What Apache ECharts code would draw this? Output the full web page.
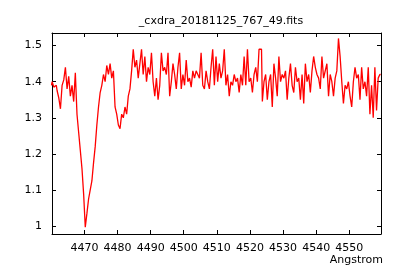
<!DOCTYPE html>
<html>
<head>
<meta charset="utf-8">
<script src="https://cdn.jsdelivr.net/npm/echarts@6/dist/echarts.min.js"></script>
<style>html,body{margin:0;padding:0;background:#fff}#c{width:400px;height:280px}</style>
</head>
<body>
<div id="c"></div>
<script>
const titleText = "_cxdra_20181125_767_49.fits";
const xLabel = "Angstrom";
const xTicks = [4470, 4480, 4490, 4500, 4510, 4520, 4530, 4540, 4550];
const yTicks = [1, 1.1, 1.2, 1.3, 1.4, 1.5];

const wavelength = [
4460,4460.5,4461,4461.5,4462,4462.5,4463,4463.5,4464,4464.5,
4465,4465.5,4466,4466.5,4467,4467.5,4468,4468.5,4469,4469.5,
4470,4470.5,4471,4471.5,4472,4472.5,4473,4473.5,4474,4474.5,
4475,4475.5,4476,4476.5,4477,4477.5,4478,4478.5,4479,4479.5,
4480,4480.5,4481,4481.5,4482,4482.5,4483,4483.5,4484,4484.5,
4485,4485.5,4486,4486.5,4487,4487.5,4488,4488.5,4489,4489.5,
4490,4490.5,4491,4491.5,4492,4492.5,4493,4493.5,4494,4494.5,
4495,4495.5,4496,4496.5,4497,4497.5,4498,4498.5,4499,4499.5,
4500,4500.5,4501,4501.5,4502,4502.5,4503,4503.5,4504,4504.5,
4505,4505.5,4506,4506.5,4507,4507.5,4508,4508.5,4509,4509.5,
4510,4510.5,4511,4511.5,4512,4512.5,4513,4513.5,4514,4514.5,
4515,4515.5,4516,4516.5,4517,4517.5,4518,4518.5,4519,4519.5,
4520,4520.5,4521,4521.5,4522,4522.5,4523,4523.5,4524,4524.5,
4525,4525.5,4526,4526.5,4527,4527.5,4528,4528.5,4529,4529.5,
4530,4530.5,4531,4531.5,4532,4532.5,4533,4533.5,4534,4534.5,
4535,4535.5,4536,4536.5,4537,4537.5,4538,4538.5,4539,4539.5,
4540,4540.5,4541,4541.5,4542,4542.5,4543,4543.5,4544,4544.5,
4545,4545.5,4546,4546.5,4547,4547.5,4548,4548.5,4549,4549.5,
4550,4550.5,4551,4551.5,4552,4552.5,4553,4553.5,4554,4554.5,
4555,4555.5,4556,4556.5,4557,4557.5,4558,4558.5,4559,4559.5
];

const flux = [
1.39,1.40,1.385,1.39,1.375,1.355,1.325,1.39,1.405,1.44,
1.38,1.415,1.36,1.39,1.345,1.425,1.31,1.26,1.21,1.16,
1.09,0.997,1.035,1.075,1.10,1.125,1.175,1.22,1.28,1.33,
1.37,1.39,1.42,1.40,1.445,1.42,1.45,1.41,1.43,1.33,
1.31,1.28,1.27,1.31,1.30,1.33,1.31,1.36,1.38,1.43,
1.49,1.44,1.46,1.41,1.45,1.49,1.42,1.47,1.40,1.44,
1.42,1.48,1.40,1.36,1.41,1.35,1.39,1.48,1.43,1.44,
1.42,1.48,1.36,1.40,1.45,1.42,1.38,1.44,1.48,1.38,
1.42,1.39,1.46,1.40,1.41,1.385,1.43,1.41,1.43,1.42,
1.41,1.48,1.39,1.38,1.43,1.40,1.38,1.44,1.49,1.39,
1.47,1.40,1.45,1.41,1.43,1.49,1.39,1.42,1.36,1.40,
1.39,1.42,1.40,1.41,1.37,1.42,1.39,1.47,1.39,1.49,
1.40,1.41,1.37,1.42,1.44,1.40,1.49,1.49,1.345,1.40,
1.42,1.35,1.40,1.42,1.33,1.45,1.41,1.36,1.47,1.40,
1.42,1.41,1.43,1.35,1.41,1.45,1.39,1.37,1.44,1.40,
1.41,1.35,1.42,1.34,1.45,1.40,1.42,1.37,1.43,1.47,
1.44,1.42,1.41,1.38,1.47,1.41,1.43,1.45,1.36,1.42,
1.40,1.36,1.41,1.43,1.52,1.47,1.40,1.34,1.39,1.38,
1.40,1.36,1.33,1.40,1.44,1.41,1.42,1.35,1.44,1.38,
1.40,1.36,1.44,1.31,1.39,1.30,1.44,1.32,1.41,1.42
];

const data = wavelength.map((w, i) => [w, flux[i]]);
const font = 'DejaVu Sans';
const chart = echarts.init(document.getElementById('c'), null, {renderer: 'canvas'});
const tickStyle = {show: true, inside: true, length: 4, lineStyle: {color: '#000', width: 1}};
const lineStyle = {show: true, onZero: false, lineStyle: {color: '#000', width: 1}};
chart.setOption({
  animation: false,
  backgroundColor: '#fff',
  title: {text: titleText, left: 216, top: 11, textAlign: 'center',
    textStyle: {fontFamily: font, fontSize: 11, fontWeight: 'normal', color: '#000'}},
  grid: {left: 52, right: 19, top: 33, bottom: 46},
  xAxis: [
    {type: 'value', min: 4460.2, max: 4559.6, position: 'bottom',
     axisLine: lineStyle,
     axisTick: Object.assign({customValues: xTicks}, tickStyle),
     axisLabel: {customValues: xTicks, margin: 9, color: '#000', fontFamily: font, fontSize: 11,
       formatter: v => String(Math.round(v))},
     splitLine: {show: false}},
    {type: 'value', min: 4460.2, max: 4559.6, position: 'top',
     axisLine: lineStyle,
     axisTick: Object.assign({customValues: xTicks}, tickStyle),
     axisLabel: {show: false}, splitLine: {show: false}}
  ],
  yAxis: [
    {type: 'value', min: 0.978, max: 1.535, position: 'left',
     axisLine: lineStyle,
     axisTick: Object.assign({customValues: yTicks}, tickStyle),
     axisLabel: {customValues: yTicks, margin: 10, color: '#000', fontFamily: font, fontSize: 11,
       formatter: v => String(Math.round(v * 10) / 10)},
     splitLine: {show: false}},
    {type: 'value', min: 0.978, max: 1.535, position: 'right',
     axisLine: lineStyle,
     axisTick: Object.assign({customValues: yTicks}, tickStyle),
     axisLabel: {show: false}, splitLine: {show: false}}
  ],
  graphic: [{type: 'text', right: 17, top: 255,
    style: {text: xLabel, fontFamily: font, fontSize: 11, fill: '#000'}}],
  series: [{type: 'line', data: data, xAxisIndex: 0, yAxisIndex: 0, step: 'middle',
    showSymbol: false, symbol: 'none', clip: true,
    lineStyle: {color: '#ff0000', width: 1.3}}]
});
</script>
</body>
</html>
